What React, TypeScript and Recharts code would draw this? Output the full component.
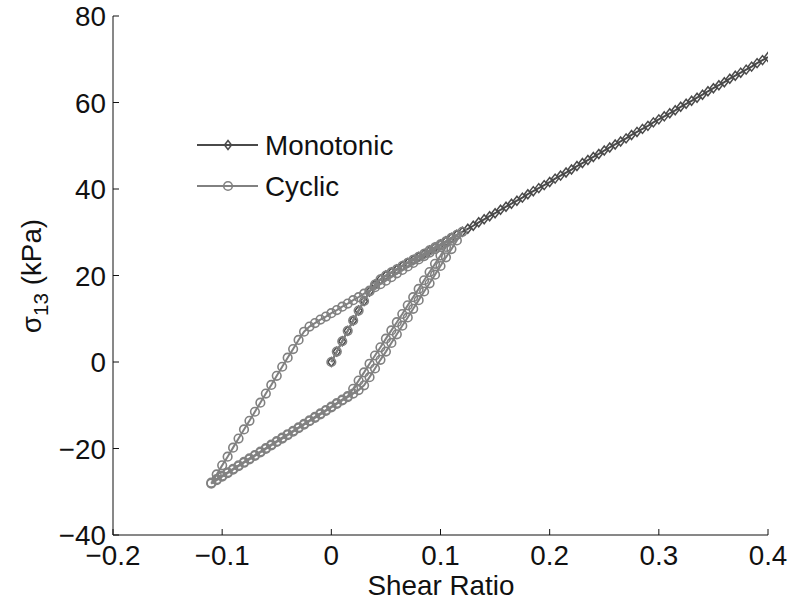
import { ScatterChart, Scatter, XAxis, YAxis, Legend } from "recharts";

const FONT = "'Liberation Sans', Arial, Helvetica, sans-serif";
const MONO_COLOR = "#4a4a4a";
const CYC_COLOR = "#818181";

const xTicks = [-0.2, -0.1, 0, 0.1, 0.2, 0.3, 0.4];
const xTickLabels = ["\u22120.2", "\u22120.1", "0", "0.1", "0.2", "0.3", "0.4"];
const yTicks = [-40, -20, 0, 20, 40, 60, 80];
const yTickLabels = ["\u221240", "\u221220", "0", "20", "40", "60", "80"];

// monotonic test: shear ratio vs sigma13 (kPa)
const monoStrain = [
  0, 0.005, 0.01, 0.015, 0.02, 0.025, 0.03, 0.035, 0.04, 0.045, 0.05, 0.055, 0.06, 0.065, 0.07, 0.075, 0.08,
  0.085, 0.09, 0.095, 0.1, 0.105, 0.11, 0.115, 0.12, 0.125, 0.13, 0.135, 0.14, 0.145, 0.15, 0.155, 0.16, 0.165,
  0.17, 0.175, 0.18, 0.185, 0.19, 0.195, 0.2, 0.205, 0.21, 0.215, 0.22, 0.225, 0.23, 0.235, 0.24, 0.245, 0.25,
  0.255, 0.26, 0.265, 0.27, 0.275, 0.28, 0.285, 0.29, 0.295, 0.3, 0.305, 0.31, 0.315, 0.32, 0.325, 0.33, 0.335,
  0.34, 0.345, 0.35, 0.355, 0.36, 0.365, 0.37, 0.375, 0.38, 0.385, 0.39, 0.395, 0.4,
];
const monoStress = [
  0, 2.4, 4.8, 7.2, 9.6, 11.9, 14.1, 16.3, 17.9, 19.1, 20.0, 20.7, 21.4, 22.2, 22.9, 23.6, 24.3, 25.0, 25.8,
  26.5, 27.2, 27.9, 28.7, 29.4, 30.1, 30.8, 31.5, 32.3, 33.0, 33.7, 34.4, 35.2, 35.9, 36.6, 37.3, 38.0, 38.8,
  39.5, 40.2, 40.9, 41.6, 42.4, 43.1, 43.8, 44.5, 45.3, 46.0, 46.7, 47.4, 48.1, 48.9, 49.6, 50.3, 51.0, 51.7,
  52.5, 53.2, 53.9, 54.6, 55.4, 56.1, 56.8, 57.5, 58.2, 59.0, 59.7, 60.4, 61.1, 61.8, 62.6, 63.3, 64.0, 64.7,
  65.5, 66.2, 66.9, 67.6, 68.3, 69.1, 69.8, 70.5,
];

// cyclic test, in loading order
const cyclicStrain = [
  // first loading
  0, 0.005, 0.01, 0.015, 0.02, 0.025, 0.03, 0.035, 0.04, 0.045, 0.05, 0.055, 0.06, 0.065, 0.07, 0.075, 0.08,
  0.085, 0.09, 0.095, 0.1, 0.105, 0.11, 0.115, 0.12,
  // unloading
  0.115, 0.11, 0.105, 0.1, 0.095, 0.09, 0.085, 0.08, 0.075, 0.07, 0.065, 0.06, 0.055, 0.05, 0.045, 0.04, 0.035,
  0.03, 0.025, 0.02, 0.015, 0.01, 0.005, 0, -0.005, -0.01, -0.015, -0.02, -0.025, -0.03, -0.035, -0.04, -0.045,
  -0.05, -0.055, -0.06, -0.065, -0.07, -0.075, -0.08, -0.085, -0.09, -0.095, -0.1, -0.105, -0.11,
  // reloading
  -0.105, -0.1, -0.095, -0.09, -0.085, -0.08, -0.075, -0.07, -0.065, -0.06, -0.055, -0.05, -0.045, -0.04, -0.035,
  -0.03, -0.025, -0.02, -0.015, -0.01, -0.005, 0, 0.005, 0.01, 0.015, 0.02, 0.025, 0.03, 0.035, 0.04, 0.045,
  0.05, 0.055, 0.06, 0.065, 0.07, 0.075, 0.08, 0.085, 0.09, 0.095, 0.1, 0.105, 0.11,
  // second unloading
  0.105, 0.1, 0.095, 0.09, 0.085, 0.08, 0.075, 0.07, 0.065, 0.06, 0.055, 0.05, 0.045, 0.04, 0.035, 0.03, 0.025,
  0.02, 0.015, 0.01, 0.005, 0, -0.005, -0.01, -0.015, -0.02, -0.025, -0.03, -0.035, -0.04, -0.045, -0.05,
  -0.055, -0.06, -0.065, -0.07, -0.075, -0.08, -0.085, -0.09, -0.095, -0.1, -0.105, -0.11,
];
const cyclicStress = [
  0, 2.4, 4.8, 7.2, 9.6, 11.9, 14.1, 16.3, 17.9, 19.1, 20.0, 20.7, 21.4, 22.2, 22.9, 23.6, 24.3, 25.0, 25.8,
  26.5, 27.2, 27.9, 28.7, 29.4, 30.1,
  28.1, 26.1, 24.2, 22.2, 20.2, 18.2, 16.3, 14.3, 12.3, 10.3, 8.4, 6.4, 4.4, 2.4, 0.5, -1.5, -3.5, -5.4,
  -6.5, -7.3, -8.1, -8.9, -9.7, -10.5, -11.3, -12.1, -12.9, -13.7, -14.5, -15.3, -16.1, -16.9, -17.7, -18.5,
  -19.3, -20.1, -20.9, -21.7, -22.5, -23.3, -24.1, -24.9, -25.7, -26.5, -27.3, -28.1,
  -26.0, -23.9, -21.9, -19.8, -17.7, -15.6, -13.6, -11.5, -9.4, -7.3, -5.3, -3.2, -1.1, 1.0, 3.0, 5.1, 7.0,
  8.2, 9.0, 9.8, 10.5, 11.3, 12.0, 12.8, 13.5, 14.3, 15.0, 15.8, 16.5, 17.3, 18.0, 18.8, 19.6, 20.5, 21.3,
  22.1, 22.9, 23.7, 24.5, 25.3, 26.1, 26.9, 27.7, 28.5,
  26.6, 24.6, 22.7, 20.8, 18.9, 16.9, 15.0, 13.1, 11.1, 9.2, 7.3, 5.4, 3.4, 1.5, -0.4, -2.4, -4.3, -6.2, -7.9,
  -8.7, -9.5, -10.3, -11.1, -11.9, -12.7, -13.5, -14.3, -15.1, -15.9, -16.7, -17.5, -18.3, -19.1, -19.9,
  -20.7, -21.5, -22.3, -23.1, -23.9, -24.7, -25.5, -26.3, -27.1, -27.9,
];

const monoData = monoStrain.map((x, i) => ({ x, y: monoStress[i] }));
const cyclicData = cyclicStrain.map((x, i) => ({ x, y: cyclicStress[i] }));

// text looks a bit taller than wide in the original
const Txt = ({ x, y, anchor = "middle", size = 27, children }: any) => (
  <text
    transform={`translate(${x},${y}) scale(1.03,1.05)`}
    textAnchor={anchor}
    fontSize={size}
    fontFamily={FONT}
    fill="#111"
  >
    {children}
  </text>
);

const Diamond = ({ cx, cy }: any) => {
  if (cx == null || cy == null) return null;
  return (
    <path
      d={`M${cx},${cy - 4.5}L${cx + 3.5},${cy}L${cx},${cy + 4.5}L${cx - 3.5},${cy}Z`}
      fill="none"
      stroke={MONO_COLOR}
      strokeWidth={1.5}
    />
  );
};

const Ring = ({ cx, cy }: any) => {
  if (cx == null || cy == null) return null;
  return <circle cx={cx} cy={cy} r={4.3} fill="none" stroke={CYC_COLOR} strokeWidth={1.6} />;
};

const XTick = ({ x, y, payload }: any) => {
  const i = xTicks.indexOf(payload.value);
  return (
    <g>
      <line x1={x} y1={y} x2={x} y2={y - 6} stroke="#111" />
      <Txt x={x} y={y + 30}>{xTickLabels[i]}</Txt>
    </g>
  );
};

const YTick = ({ x, y, payload }: any) => {
  const i = yTicks.indexOf(payload.value);
  return (
    <g>
      <line x1={x} y1={y} x2={x + 6} y2={y} stroke="#111" />
      <Txt x={x - 7} y={y + 10} anchor="end">{yTickLabels[i]}</Txt>
    </g>
  );
};

const LegendBox = () => (
  <svg width={240} height={100}>
    <line x1={7} y1={25} x2={68} y2={25} stroke={MONO_COLOR} strokeWidth={2} />
    <Diamond cx={38} cy={25} />
    <Txt x={75} y={35} anchor="start">Monotonic</Txt>
    <line x1={7} y1={66} x2={68} y2={66} stroke={CYC_COLOR} strokeWidth={2} />
    <Ring cx={38} cy={66} />
    <Txt x={75} y={76} anchor="start">Cyclic</Txt>
  </svg>
);

export default function App() {
  return (
    <div style={{ position: "absolute", left: 0, top: 0, width: 794, height: 603, background: "#fff" }}>
      <ScatterChart width={794} height={603} margin={{ top: 16, right: 26, left: 0, bottom: 0 }}>
        <XAxis
          type="number"
          dataKey="x"
          domain={[-0.2, 0.4]}
          ticks={xTicks}
          interval={0}
          allowDataOverflow
          height={68}
          stroke="#111"
          tickLine={false}
          tickSize={0}
          tickMargin={0}
          tick={<XTick />}
          label={{
            content: () => <Txt x={441} y={595}>Shear Ratio</Txt>,
          }}
        />
        <YAxis
          type="number"
          dataKey="y"
          domain={[-40, 80]}
          ticks={yTicks}
          interval={0}
          allowDataOverflow
          width={113}
          stroke="#111"
          tickLine={false}
          tickSize={0}
          tickMargin={0}
          tick={<YTick />}
          label={{
            content: () => (
              <text
                transform="translate(41,276) rotate(-90) scale(1.03,1.05)"
                textAnchor="middle"
                fontSize={27}
                fontFamily={FONT}
                fill="#111"
              >
                σ<tspan dy={7} fontSize={20}>13</tspan>
                <tspan dy={-7}> (kPa)</tspan>
              </text>
            ),
          }}
        />
        <Legend
          content={<LegendBox />}
          layout="vertical"
          align="center"
          verticalAlign="middle"
          wrapperStyle={{ top: 120, left: 190, width: 240, height: 100 }}
        />
        <Scatter
          name="Monotonic"
          data={monoData}
          line={{ stroke: MONO_COLOR, strokeWidth: 2 }}
          lineType="joint"
          shape={<Diamond />}
          isAnimationActive={false}
        />
        <Scatter
          name="Cyclic"
          data={cyclicData}
          line={{ stroke: CYC_COLOR, strokeWidth: 2 }}
          lineType="joint"
          shape={<Ring />}
          isAnimationActive={false}
        />
      </ScatterChart>
    </div>
  );
}
